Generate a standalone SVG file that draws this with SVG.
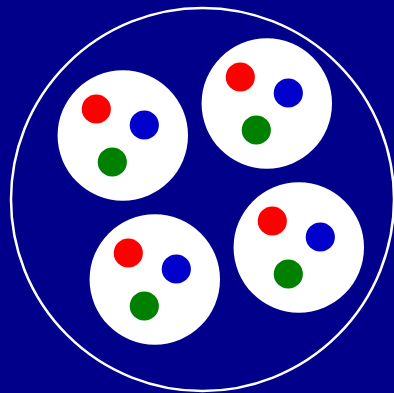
<svg xmlns="http://www.w3.org/2000/svg" width="394" height="393" viewBox="0 0 394 393">
<style>
.bg{fill:#00008B}
.outer{fill:none;stroke:#FFFFFF;stroke-width:2.5}
.cell{fill:#FFFFFF}
.r{fill:#FF0000}
.b{fill:#0000CC}
.g{fill:#008000}
</style>
<defs>
<g id="cluster">
<circle class="cell" cx="0" cy="0" r="65.2"/>
<circle class="r" cx="-26.5" cy="-26.5" r="14.6"/>
<circle class="b" cx="21.5" cy="-10.5" r="14.6"/>
<circle class="g" cx="-10.5" cy="26.5" r="14.6"/>
</g>
</defs>
<rect class="bg" x="0" y="0" width="394" height="393"/>
<g id="outer"><circle class="outer" cx="202.5" cy="199.5" r="191.5"/></g>
<g id="cell1"><use href="#cluster" x="122.8" y="135.5"/></g>
<g id="cell2"><use href="#cluster" x="266.8" y="103.5"/></g>
<g id="cell3"><use href="#cluster" x="154.8" y="279.5"/></g>
<g id="cell4"><use href="#cluster" x="298.8" y="247.5"/></g>
</svg>
